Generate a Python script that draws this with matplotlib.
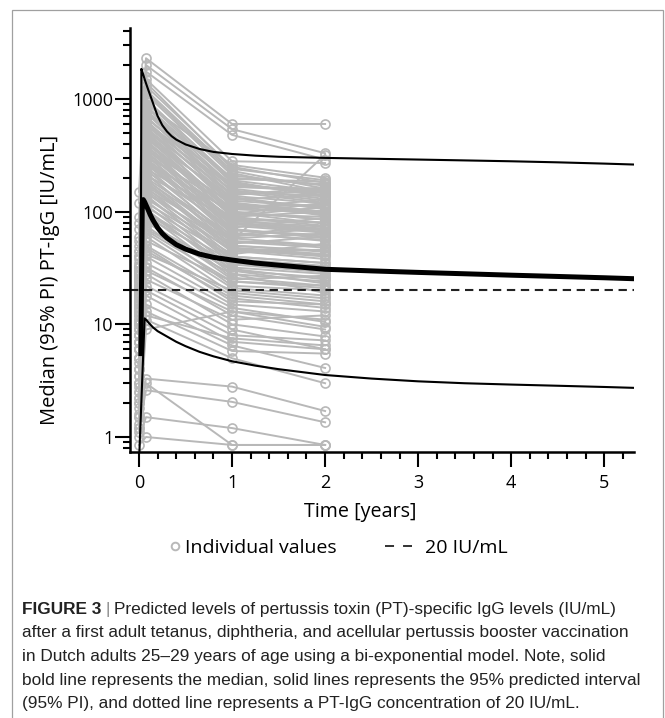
import matplotlib
matplotlib.use("Agg")
import matplotlib.pyplot as plt
import matplotlib.ticker as ticker
from matplotlib.lines import Line2D
from matplotlib.patches import Rectangle
import numpy as np

# sampling times of the individual subjects (years)
visit_times = [0.0, 0.075, 1.0, 2.0]

# individual PT-IgG values (IU/mL) per visit, one entry per subject
baseline = [150, 120, 90, 60, 40, 80, 30, 50, 25, 70,
            35, 20, 45, 15, 55, 28, 12, 38, 22, 18,
            30, 10, 24, 14, 40, 8, 19, 26, 11, 33,
            16, 9, 21, 13, 45, 7, 17, 12, 27, 6,
            15, 20, 10, 32, 8, 14, 23, 5, 12, 18,
            6, 25, 9, 11, 4, 16, 7, 30, 5, 13,
            8, 20, 3.5, 10, 6, 14, 4.5, 9, 3, 7,
            5, 2.5, 11, 4, 6, 3, 2, 5, 2.8, 1.8,
            3.5, 1.5, 2.2, 1.3, 1.6, 1.2, 2.5, 1.1, 1.5, 1.2,
            2.0, 1.0, 0.85,
            18, 25, 9, 32, 14, 20, 7, 28, 11, 16,
            6, 22, 13, 8, 19, 5, 12, 24, 7, 10,
            4, 15, 6, 3, 8, 2.2]
month1 = [2300, 2000, 1750, 1500, 1300, 1200, 1100, 1000, 950, 900,
          850, 800, 780, 750, 700, 680, 650, 620, 600, 580,
          550, 520, 500, 480, 460, 440, 420, 400, 390, 380,
          360, 350, 340, 330, 320, 310, 300, 290, 280, 270,
          260, 250, 240, 230, 220, 210, 200, 195, 190, 180,
          170, 165, 160, 150, 145, 140, 130, 125, 120, 115,
          110, 105, 100, 95, 90, 85, 80, 75, 70, 65,
          60, 55, 50, 45, 42, 40, 35, 32, 28, 25,
          22, 20, 18, 15, 13, 11, 12, 9, 3.3, 2.6,
          3.0, 1.5, 1.0,
          1400, 1150, 980, 870, 760, 690, 610, 560, 510, 470,
          430, 410, 370, 345, 315, 285, 265, 235, 215, 185,
          155, 135, 98, 68, 48, 30]
year1 = [600, 540, 480, 280, 250, 230, 210, 190, 180, 260,
         170, 160, 200, 150, 140, 175, 130, 165, 120, 155,
         110, 145, 100, 125, 95, 135, 90, 115, 80, 105,
         85, 120, 75, 95, 70, 110, 65, 88, 60, 100,
         78, 55, 90, 70, 50, 85, 62, 48, 58, 45,
         52, 40, 55, 38, 50, 35, 46, 32, 42, 30,
         40, 28, 36, 26, 34, 25, 30, 22, 28, 21,
         19, 24, 18, 17, 20, 15, 14, 12, 10, 11,
         9, 8, 7, 6.5, 5.8, 5, 7.5, 13, 2.8, 2.05,
         0.85, 1.2, 0.85,
         240, 220, 195, 185, 168, 150, 138, 128, 118, 105,
         98, 92, 82, 78, 72, 68, 64, 58, 54, 47,
         44, 37, 31, 24, 16, 13]
year2 = [600, 330, 290, 270, 180, 160, 170, 150, 140, 200,
         155, 130, 175, 120, 165, 145, 110, 160, 100, 125,
         95, 150, 85, 110, 120, 105, 75, 100, 70, 130,
         80, 95, 65, 90, 60, 115, 55, 80, 72, 85,
         68, 50, 100, 58, 45, 70, 75, 42, 50, 38,
         60, 35, 320, 33, 44, 30, 40, 28, 52, 26,
         35, 24, 31, 22, 29, 27, 23, 20, 19, 18,
         16, 21, 15, 14, 17, 13, 10.5, 9, 7.8, 12,
         6, 7.2, 6, 4.1, 5.5, 3.0, 6.5, 9.5, 1.7, 1.35,
         0.85, 0.85, 0.85,
         190, 150, 185, 135, 150, 138, 118, 140, 92, 98,
         78, 110, 74, 66, 88, 62, 56, 64, 48, 41,
         46, 32, 25, 22, 15, 11]

# model predictions (bi-exponential): median and 95% PI
upper_t = [0.02, 0.025, 0.04, 0.06, 0.08, 0.1, 0.12, 0.15, 0.2, 0.25, 0.3,
           0.35, 0.4, 0.5, 0.65, 0.8, 1.0, 1.25, 1.5, 2.0, 2.5, 3.0,
           3.5, 4.0, 4.5, 5.0, 5.32]
upper_y = [40, 1850, 1700, 1500, 1340, 1200, 1080, 920, 705, 585, 515,
           468, 436, 395, 360, 339, 325, 314, 307, 300, 295, 290,
           285, 280, 274, 267, 262]
median_t = [0.02, 0.035, 0.045, 0.06, 0.08, 0.1, 0.12, 0.15, 0.2, 0.25, 0.3,
            0.4, 0.5, 0.65, 0.8, 1.0, 1.25, 1.5, 2.0, 2.5, 3.0, 3.5,
            4.0, 4.5, 5.0, 5.32]
median_y = [5.5, 120, 128, 122, 112, 103, 94, 84, 72, 64, 58.5,
            51, 46.5, 42, 39.3, 37.2, 35, 33.5, 30.8, 29.8, 28.9, 28.1,
            27.3, 26.6, 25.9, 25.4]
lower_t = [0.0, 0.06, 0.08, 0.1, 0.15, 0.2, 0.3, 0.4, 0.5, 0.65, 0.8,
           1.0, 1.25, 1.5, 2.0, 2.5, 3.0, 3.5, 4.0, 4.5, 5.0, 5.32]
lower_y = [0.6, 11.3, 10.9, 10.4, 9.4, 8.7, 7.8, 7.0, 6.4, 5.7, 5.2,
           4.7, 4.3, 4.0, 3.55, 3.3, 3.12, 3.0, 2.92, 2.85, 2.78, 2.73]

threshold = 20

caption_lines = [
    "after a first adult tetanus, diphtheria, and acellular pertussis booster vaccination",
    "in Dutch adults 25\u201329 years of age using a bi-exponential model. Note, solid",
    "bold line represents the median, solid lines represents the 95% predicted interval",
    "(95% PI), and dotted line represents a PT-IgG concentration of 20 IU/mL.",
]

GRAY = "#b8b8b8"
W, H = 665, 718

plt.rcParams["font.family"] = ["Open Sans", "DejaVu Sans"]

fig = plt.figure(figsize=(W / 100, H / 100), dpi=100)
ax = fig.add_axes([130 / W, 1 - 452 / H, (634 - 130) / W, (452 - 28) / H])

# frame around the whole figure panel
fig.patches.append(Rectangle((12 / W, -0.1), (663 - 12) / W, 1.1 - 10 / H,
                             transform=fig.transFigure, fill=False,
                             edgecolor="#a0a0a0", linewidth=0.9))

vals = np.array([baseline, month1, year1, year2], dtype=float)
for i in range(vals.shape[1]):
    ax.plot(visit_times, vals[:, i], color=GRAY, lw=1.4, marker="o",
            ms=6.5, mfc="none", mec=GRAY, mew=1.2, zorder=1)

ax.axhline(threshold, color="#222222", lw=1.5, ls="--", dashes=(4, 2.7), zorder=2)
ax.plot(upper_t, upper_y, color="black", lw=1.5, zorder=3)
ax.plot(lower_t, lower_y, color="black", lw=1.5, zorder=3)
ax.plot(median_t, median_y, color="black", lw=3.6, zorder=3)

ax.set_yscale("log")
ax.set_xlim(-0.097, 5.32)
ax.set_ylim(0.736, 4266)

ax.xaxis.set_major_locator(ticker.MultipleLocator(1))
ax.xaxis.set_minor_locator(ticker.MultipleLocator(0.2))
ax.yaxis.set_major_locator(ticker.LogLocator(base=10, numticks=10))
ax.yaxis.set_minor_locator(ticker.LogLocator(base=10, subs=np.arange(2, 10), numticks=10))
ax.yaxis.set_major_formatter(ticker.FuncFormatter(lambda v, p: f"{v:g}"))
ax.yaxis.set_minor_formatter(ticker.NullFormatter())

for s in ["top", "right"]:
    ax.spines[s].set_visible(False)
for s in ["left", "bottom"]:
    ax.spines[s].set_linewidth(1.8)

ax.tick_params(which="major", length=10.5, width=1.5, labelsize=13, color="black")
ax.tick_params(which="minor", length=5, width=1.5)
ax.tick_params(axis="y", which="major", pad=1.5)
ax.tick_params(axis="x", which="major", pad=5)

ax.set_xlabel("Time [years]", fontsize=14.2)
ax.xaxis.set_label_coords(0.456, -0.118)
ax.set_ylabel("Median (95% PI) PT-IgG [IU/mL]", fontsize=14.4)
ax.yaxis.set_label_coords(-0.139, 0.406)

# legend: two pieces so the spacing can follow the original
leg_y = 1 - 548 / H
h1 = Line2D([], [], ls="none", marker="o", ms=5.5, mfc="none", mec=GRAY, mew=1.4)
leg1 = ax.legend([h1], ["Individual values"], frameon=False, loc="center left",
                 bbox_to_anchor=(168 / W, leg_y), bbox_transform=fig.transFigure,
                 fontsize=14, handlelength=0.7, handletextpad=0.15,
                 borderpad=0, borderaxespad=0)
ax.add_artist(leg1)
h2 = Line2D([], [], color="#222222", lw=1.3, ls="--", dashes=(5, 5))
ax.legend([h2], ["20 IU/mL"], frameon=False, loc="center left",
          bbox_to_anchor=(385 / W, leg_y), bbox_transform=fig.transFigure,
          fontsize=14, handlelength=1.39, handletextpad=0.67,
          borderpad=0, borderaxespad=0)

# caption
cap_font = ["Liberation Sans", "DejaVu Sans"]
cap_size = 12.4
x0 = 22 / W
base_y = [614, 637.5, 661, 684.5, 708]
t_bold = fig.text(x0, 1 - base_y[0] / H, "FIGURE 3", family=cap_font, fontsize=cap_size,
                  fontweight="bold", color="#222222", va="baseline")
renderer = fig.canvas.get_renderer()
bb = t_bold.get_window_extent(renderer)
t_bar = fig.text(bb.x1 / W + 4 / W, 1 - base_y[0] / H, "|", family=cap_font,
                 fontsize=cap_size, color="#888888", va="baseline")
bb2 = t_bar.get_window_extent(renderer)
fig.text(bb2.x1 / W + 4 / W, 1 - base_y[0] / H,
         "Predicted levels of pertussis toxin (PT)-specific IgG levels (IU/mL)",
         family=cap_font, fontsize=cap_size, color="#222222", va="baseline")
for line, yb in zip(caption_lines, base_y[1:]):
    fig.text(x0, 1 - yb / H, line, family=cap_font, fontsize=cap_size,
             color="#222222", va="baseline")

fig.savefig("out.png", dpi=100)
